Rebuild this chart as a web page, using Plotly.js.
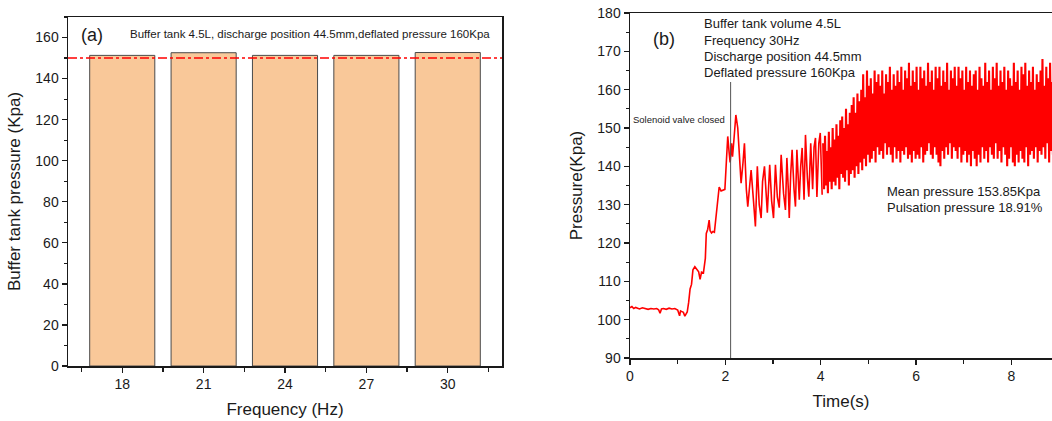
<!DOCTYPE html>
<html>
<head>
<meta charset="utf-8">
<script src="https://cdn.plot.ly/plotly-3.0.1.min.js"></script>
<style>
  html, body { margin: 0; padding: 0; background: #fff; }
  #chart { width: 1052px; height: 421px; }
</style>
</head>
<body>
<div id="chart"></div>
<script>
// ---------- Panel (a) data ----------
const frequencies = [18, 21, 24, 27, 30];
const tankPressure = [151.3, 152.6, 151.3, 151.3, 152.7];
const targetPressure = 150;

// ---------- Panel (b) data ----------
const earlyTime = [
  0, 0.04, 0.08, 0.12, 0.16, 0.2, 0.26, 0.32, 0.38, 0.44,
  0.5, 0.56, 0.6, 0.63, 0.66, 0.7, 0.76, 0.82, 0.88, 0.94,
  1.0, 1.04, 1.06, 1.09, 1.12, 1.15, 1.18, 1.2, 1.23, 1.26,
  1.29, 1.32, 1.36, 1.4, 1.44, 1.47, 1.5, 1.54, 1.58, 1.6,
  1.63, 1.66, 1.68, 1.71, 1.74, 1.77, 1.8, 1.84, 1.87, 1.91,
  1.95, 1.99, 2.02, 2.05, 2.08, 2.1, 2.13, 2.15, 2.18, 2.22,
  2.26, 2.3, 2.33, 2.37, 2.4, 2.44, 2.47, 2.51, 2.54, 2.59,
  2.63, 2.67, 2.71, 2.75, 2.78, 2.82, 2.85, 2.88, 2.93, 2.97,
  3.01, 3.05, 3.09, 3.13, 3.17, 3.22, 3.26, 3.29, 3.32, 3.34,
  3.37, 3.40, 3.44, 3.47, 3.50, 3.53, 3.55, 3.58, 3.61, 3.65,
  3.68, 3.72, 3.75, 3.79, 3.83, 3.86, 3.89, 3.92, 3.96, 3.99,
  4.03
];
const earlyPressure = [
  103.1, 103.4, 102.9, 103.2, 103.0, 102.8, 103.1, 102.9, 102.7, 102.9,
  102.8, 102.9, 102.6, 101.7, 102.8, 102.9, 102.7, 103.0, 102.8, 102.9,
  102.5, 101.0, 102.3, 102.1, 101.9, 100.9, 101.4, 102.0, 104.5, 108.0,
  109.2, 113.0, 113.8, 113.2, 112.5, 110.5, 112.4, 112.2, 116.0, 122.5,
  123.6, 126.0, 123.2, 122.6, 123.0, 122.8, 126.5, 131.0, 134.6, 133.6,
  133.9, 134.0, 141.0, 147.8, 143.5, 141.0, 146.0, 142.5, 147.0, 153.4,
  150.0, 140.0, 135.6, 141.0, 146.0, 134.0, 129.5, 135.0, 139.0, 131.0,
  124.3, 140.0, 130.0, 126.5, 136.0, 140.0, 133.0, 127.9, 140.4, 131.0,
  126.5, 140.4, 132.0, 129.2, 143.0, 133.0, 128.6, 142.2, 134.0, 126.5,
  138.0, 144.3, 134.0, 129.5, 144.3, 136.0, 131.3, 140.0, 144.8, 131.3,
  148.2, 137.0, 132.1, 146.0, 134.0, 145.0, 147.4, 132.0, 146.0, 148.7,
  132.6
];
// dense pulsation segment, sampled every 0.02 s starting at 4.05 s
const pulseStart = 4.05;
const pulseStep = 0.02;
const pulsePressure = [
  146,134,148,135,144,133,149,136,145,134,
  150,136,147,135,151,137,148,134,152,138,
  153,137,150,136,155,139,151,135,154,138,
  156,139,158,137,154,140,159,138,157,141,
  160,139,164,142,158,140,165,143,161,141,
  163,142,159,144,165,141,162,145,164,143,
  161,144,165,142,159,146,164,143,162,145,
  166,143,160,141,164,145,161,142,165,144,
  162,141,166,144,160,143,165,145,163,142,
  167,143,161,141,165,144,162,142,166,143,
  160,142,166,145,163,141,165,143,161,144,
  167,146,162,143,165,142,160,145,166,143,
  163,141,166,140,161,144,165,142,162,145,
  167,143,160,146,165,142,163,145,166,144,
  161,142,166,145,163,141,165,143,160,144,
  166,141,162,143,165,140,161,144,164,142,
  165,140,160,143,166,141,163,145,161,142,
  167,144,162,141,165,145,160,143,166,142,
  163,146,167,142,161,144,165,141,162,145,
  166,143,160,140,165,142,163,145,161,141,
  167,140,162,143,165,141,160,144,166,142,
  164,141,167,145,161,140,165,143,162,144,
  166,142,160,145,164,141,162,144,165,143,
  168,145,161,142,166,146,163,141,167,144,
  162,143,166
];
const valveTime = 2.11;
const valveLineTop = 162;

const textA = "Buffer tank 4.5L, discharge position 44.5mm,deflated pressure 160Kpa";
const infoLines = ["Buffer tank volume 4.5L", "Frequency 30Hz", "Discharge position 44.5mm", "Deflated pressure 160Kpa"];
const statLines = ["Mean pressure 153.85Kpa", "Pulsation pressure 18.91%"];

// ---------- geometry helpers (pixel -> paper) ----------
const W = 1052, H = 421;
const px = v => v / W;
const py = v => 1 - v / H;

const FONT = "Liberation Sans, Arial, Helvetica, sans-serif";
const INK = "#1a1a1a";

const axisCommon = {
  showline: true, linecolor: INK, linewidth: 1.5,
  ticks: "outside", ticklen: 5, tickwidth: 1.3, tickcolor: INK,
  showgrid: false, zeroline: false,
  tickfont: { family: FONT, size: 14, color: INK },
  automargin: false
};

const traces = [
  {
    type: "bar", x: frequencies, y: tankPressure, width: 2.4,
    marker: { color: "#F9C899", line: { color: "#4a4a4a", width: 1 } },
    xaxis: "x", yaxis: "y", hoverinfo: "skip"
  },
  {
    type: "scatter", mode: "lines", x: earlyTime, y: earlyPressure,
    line: { color: "#FF0000", width: 1.6 }, xaxis: "x2", yaxis: "y2", hoverinfo: "skip"
  },
  {
    type: "scatter", mode: "lines", x0: pulseStart, dx: pulseStep, y: pulsePressure,
    line: { color: "#FF0000", width: 2.1 }, xaxis: "x2", yaxis: "y2", hoverinfo: "skip"
  }
];

const ann = (text, x, y, size, xanchor) => ({
  text, xref: "paper", yref: "paper", x: px(x), y: py(y),
  xanchor: xanchor || "left", yanchor: "middle", showarrow: false,
  font: { family: FONT, size, color: INK }
});

const annotations = [
  ann("(a)", 79, 35, 18),
  ann(textA, 128, 34, 11.5),
  ann("(b)", 651, 39, 18),
  ann("Solenoid valve closed", 727, 119, 9.5, "right"),
];
infoLines.forEach((t, i) => annotations.push(ann(t, 702, 24 + i * 16.3, 13)));
statLines.forEach((t, i) => annotations.push(ann(t, 885, 192 + i * 15.5, 13)));

const layout = {
  width: W, height: H,
  margin: { l: 0, r: 0, t: 0, b: 0 },
  paper_bgcolor: "#fff", plot_bgcolor: "#fff",
  showlegend: false,
  font: { family: FONT, color: INK },
  bargap: 0,
  xaxis: Object.assign({}, axisCommon, {
    domain: [px(68), px(502)], anchor: "y",
    range: [16, 32], tickmode: "array", tickvals: frequencies,
    mirror: true,
    minor: { tick0: 16.5, dtick: 3, ticks: "outside", ticklen: 4, tickcolor: INK, tickwidth: 1.2 },
    title: { text: "Frequency (Hz)", font: { family: FONT, size: 17, color: INK }, standoff: 12 }
  }),
  yaxis: Object.assign({}, axisCommon, {
    domain: [py(366), py(17)], anchor: "x",
    range: [0, 170], tick0: 0, dtick: 20,
    mirror: true,
    minor: { tick0: 0, dtick: 10, ticks: "outside", ticklen: 3, tickcolor: INK, tickwidth: 1.2 },
    title: { text: "Buffer tank pressure (Kpa)", font: { family: FONT, size: 17, color: INK }, standoff: 10 }
  }),
  xaxis2: Object.assign({}, axisCommon, {
    domain: [px(630), 1], anchor: "y2",
    range: [0, 8.85], tick0: 0, dtick: 2,
    mirror: true,
    minor: { tick0: 0, dtick: 1, ticks: "outside", ticklen: 4, tickcolor: INK, tickwidth: 1.2 },
    title: { text: "Time(s)", font: { family: FONT, size: 17, color: INK }, standoff: 12 }
  }),
  yaxis2: Object.assign({}, axisCommon, {
    domain: [py(358), py(13)], anchor: "x2",
    range: [90, 180], tick0: 90, dtick: 10,
    mirror: false,
    minor: { tick0: 90, dtick: 5, ticks: "outside", ticklen: 3, tickcolor: INK, tickwidth: 1.2 },
    title: { text: "Pressure(Kpa)", font: { family: FONT, size: 17, color: INK }, standoff: 10 }
  }),
  shapes: [
    {
      type: "line", xref: "x domain", yref: "y", x0: 0, x1: 1, y0: targetPressure, y1: targetPressure,
      line: { color: "#FF0000", width: 1.5, dash: "dashdot" }
    },
    {
      type: "line", xref: "x2", yref: "y2", x0: valveTime, x1: valveTime, y0: 90, y1: valveLineTop,
      line: { color: "#555", width: 1 }
    }
  ],
  annotations
};

Plotly.newPlot("chart", traces, layout, { staticPlot: true, displayModeBar: false });
</script>
</body>
</html>
